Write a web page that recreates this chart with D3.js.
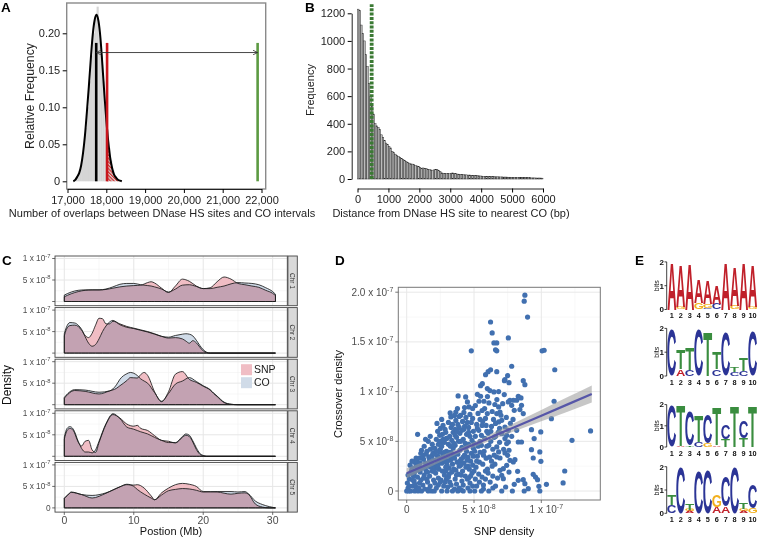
<!DOCTYPE html>
<html><head><meta charset="utf-8">
<script src="https://cdn.jsdelivr.net/npm/d3@7"></script>
<style>
body{margin:0;background:#fff}
svg{display:block}
text{font-family:"Liberation Sans",Arial,Helvetica,sans-serif}
</style></head>
<body><svg id="c" width="762" height="539"></svg>
<script>
// ================= DATA =================
// Panel A
const aTicksX = [17000,18000,19000,20000,21000,22000];
const aTicksY = [0,0.05,0.10,0.15,0.20];
const aHistBins = [17200,17250,17300,17350,17400,17450,17500,17550,17600,17650,17700,17750,17800,17850,17900,17950,18000,18050,18100,18150,18200,18250];
const aHistFreq = [0.004,0.009,0.016,0.03,0.048,0.072,0.1,0.135,0.17,0.2,0.22,0.236,0.2,0.17,0.135,0.1,0.07,0.045,0.028,0.015,0.007,0.003];
const aCurvePos = [17150,17200,17250,17300,17350,17400,17450,17500,17550,17600,17650,17700,17750,17800,17850,17900,17950,18000,18050,18100,18150,18200,18250,18300,18350,18400];
const aCurveFreq = [0,0.002,0.006,0.011,0.021,0.038,0.062,0.094,0.128,0.165,0.198,0.218,0.225,0.216,0.193,0.157,0.118,0.083,0.054,0.032,0.018,0.009,0.005,0.002,0.001,0];
const aPermMean = 17740, aSignif = 18020, aObserved = 21900, aLineTop = 0.187, aArrowY = 0.174;

// Panel B
const bTicksX = [0,1000,2000,3000,4000,5000,6000];
const bTicksY = [0,200,400,600,800,1000,1200];
const bBinWidth = 50;
const bCounts = [1230,1220,1115,1055,1000,900,815,690,600,525,470,400,385,375,360,320,300,280,260,250,235,225,
 200,190,180,172,165,155,148,140,135,125,120,115,110,108,105,98,94,90,82,78,80,75,76,70,68,66,64,66,70,68,60,54,
 45,42,40,38,40,38,42,44,40,38,36,35,34,33,31,30,30,28,29,27,26,27,25,24,23,22,
 21,20,20,19,19,18,18,17,17,16,16,16,15,15,14,14,14,13,13,12,
 12,12,11,11,11,10,10,10,9,9,9,9,8,8,8,7,7,7,7,6];
const bMedianDist = 458;

// Panel C (density in units of 1e-8, position in Mb)
const cChroms = ["Chr 1","Chr 2","Chr 3","Chr 4","Chr 5"];
const cTicksX = [0,10,20,30];
const cTicksY = [0,5,10];
const cTickTextY = [["0",""],["5 x 10","-8"],["1 x 10","-7"]];
const chr1Pos = [0,1,2,3,4,5,6,7,8,9,10,11,12,12.5,13,14,15,16,17,18,19,20,21,22,23,24,25,26,27,28,29,30,30.4];
const chr1CO  = [1.5,2.2,2.6,2.7,2.7,2.7,2.9,3.4,4.0,4.2,4.2,3.9,3.7,3.6,3.4,2.9,2.2,2.9,3.8,3.9,3.5,3.0,3.0,3.3,3.6,4.1,4.4,4.3,4.2,3.9,3.2,2.3,1.7];
const chr1SNP = [1.1,1.8,2.3,2.6,2.7,2.7,2.8,3.1,3.4,3.6,3.7,3.8,4.4,4.6,4.3,3.1,2.1,3.6,5.2,4.7,3.6,3.0,3.2,4.6,5.7,5.2,4.2,3.9,3.6,3.3,2.6,1.9,1.4];
const chr2Pos = [0,0.3,0.8,1.5,2,2.5,3,3.5,4,4.5,5,5.5,6,6.5,7,8,9,10,11,12,13,14,15,16,17,17.5,18,18.5,19,19.5,20,20.5,21,30.4];
const chr2CO  = [4.5,6.0,7.1,7.0,6.5,5.5,3.8,2.3,1.6,2.0,3.3,5.0,6.3,7.2,7.6,6.6,6.0,5.7,5.3,4.9,4.4,3.9,3.7,4.1,4.4,4.5,4.4,4.0,3.0,1.8,0.8,0.2,0,0];
const chr2SNP = [4.0,5.5,6.4,6.5,6.2,5.3,4.1,3.6,4.6,6.5,8.1,8.0,6.8,6.8,7.4,6.8,6.2,5.8,5.4,5.0,4.5,3.9,3.5,3.6,3.3,2.8,2.3,2.9,2.4,1.4,0.5,0.1,0,0];
const chr3Pos = [0,0.5,1.5,3,5,6.5,7.5,8,9,9.5,10.5,11,11.5,12,13,14,15,16,17,18,19,20,21,21.5,22,23,24,25,30.4];
const chr3CO  = [1.7,2.6,3.5,3.4,2.9,3.2,4.6,5.9,7.2,7.5,6.8,6.0,5.5,5.0,2.8,0.8,2.6,4.8,5.5,6.3,5.4,4.4,3.5,2.7,2.0,0.6,0.1,0,0];
const chr3SNP = [1.5,2.4,3.3,3.1,2.5,3.2,3.8,4.4,5.6,6.3,6.2,7.0,7.5,6.8,3.0,0.7,3.0,7.1,7.7,5.9,5.2,4.3,3.4,2.6,1.9,0.5,0.1,0,0];
const chr4Pos = [0,0.4,0.8,1.3,2,2.5,3,3.5,4,4.5,5,6,7,8,9,10,10.5,11,12,13,14,15,16,17,17.5,18,18.5,19,19.5,20,20.5,30.4];
const chr4CO  = [4.5,6.5,6.9,6.3,3.5,1.8,1.0,1.0,0.8,1.5,3.5,7.6,9.9,8.8,6.8,6.3,6.0,5.7,5.2,4.4,3.7,3.2,3.2,4.6,5.2,4.9,3.6,2.0,0.7,0.2,0,0];
const chr4SNP = [4.0,6.0,6.5,6.0,3.3,2.4,3.5,3.7,1.5,0.9,3.2,7.4,9.7,8.9,7.5,7.0,7.2,6.5,6.0,4.8,3.7,3.5,3.1,4.4,4.9,4.6,3.3,1.6,0.5,0.1,0,0];
const chr5Pos = [0,0.5,1,2.5,4,6,8,9,10,10.5,11.5,12.5,13,14,15,16,17,18,19,20,22,24,25,26,26.5,27.5,28.5,29.5,30.4];
const chr5CO  = [2.3,3.0,3.7,3.1,2.9,3.5,4.9,5.5,5.0,4.3,3.2,2.3,1.9,3.0,4.0,4.3,4.5,4.4,4.1,3.7,3.8,3.8,3.7,3.8,3.3,1.6,0.8,0.3,0];
const chr5SNP = [2.2,3.0,3.6,3.1,2.3,3.4,4.9,5.4,5.3,5.4,4.6,2.8,1.9,3.5,4.6,5.4,5.7,5.5,5.0,3.8,3.7,3.2,3.4,3.5,3.2,0.9,0.2,0,0];

// Panel D (units of 1e-8): [SNP density, crossover density]
const dTicksX = [0,5,10];
const dTickTextX = [["0",""],["5 x 10","-8"],["1 x 10","-7"]];
const dTicksY = [0,5,10,15,20];
const dTickTextY = [["0",""],["5 x 10","-8"],["1 x 10","-7"],["1.5 x 10","-7"],["2.0 x 10","-7"]];
const dPoints = [
[0.0,0],[0.1,0.3],[0.3,0],[0.05,0.8],[0.2,1.2],[0.1,1.6],[0.35,2.0],[0.25,2.6],[0.45,0.5],[0.5,1.5],[0.15,0.0],[0.4,2.3],
[0.6,0],[0.7,0.4],[0.55,1.0],[0.8,1.4],[0.65,2.0],[0.9,2.6],[0.75,3.0],[0.95,0.8],[0.85,0.0],[0.6,2.9],[0.81,5.7],[1.0,1.9],[0.7,3.3],
[1.1,0],[1.2,0.6],[1.05,1.1],[1.3,1.6],[1.15,2.3],[1.4,2.8],[1.25,3.2],[1.45,3.7],[1.1,4.1],[1.35,0.2],[1.5,1.2],[1.3,4.5],[1.45,2.0],
[1.6,0],[1.75,0.5],[1.55,0.9],[1.7,1.5],[1.9,2.0],[1.6,2.5],[1.8,2.9],[1.65,3.4],[1.95,3.8],[1.75,4.2],[1.9,4.7],[1.6,5.0],[2.0,1.1],[1.85,0.0],[1.95,2.6],
[2.05,0],[2.2,0.3],[2.1,0.8],[2.35,1.3],[2.15,1.8],[2.4,2.2],[2.25,2.7],[2.05,3.1],[2.3,3.5],[2.45,3.9],[2.1,4.3],[2.35,4.7],[2.2,5.2],[2.45,5.6],[2.3,6.0],[2.5,0.9],[2.4,2.9],[2.15,2.3],[2.5,4.2],
[2.6,0],[2.75,0.5],[2.55,1.1],[2.8,1.6],[2.65,2.0],[2.9,2.4],[2.6,2.8],[2.85,3.2],[2.7,3.6],[2.95,4.0],[2.6,4.5],[2.8,4.9],[2.95,5.3],[2.65,5.7],[2.85,6.2],[2.7,6.6],[2.95,1.2],[3.0,0.0],[2.75,3.0],[2.9,2.0],
[3.05,0.4],[3.2,0.9],[3.1,1.4],[3.35,1.9],[3.15,2.3],[3.4,2.7],[3.25,3.1],[3.05,3.5],[3.3,3.9],[3.45,4.3],[3.1,4.7],[3.35,5.1],[3.2,5.5],[3.45,5.9],[3.3,6.4],[3.1,6.9],[3.28,7.45],[3.23,7.85],[3.4,0.0],[3.5,2.2],[3.0,2.6],
[3.55,0.2],[3.7,0.7],[3.6,1.2],[3.85,1.7],[3.65,2.1],[3.9,2.5],[3.75,2.9],[3.55,3.3],[3.8,3.7],[3.95,4.1],[3.6,4.6],[3.85,5.0],[3.7,5.4],[3.95,5.8],[3.6,6.2],[3.8,6.7],[3.65,7.1],[3.9,7.5],[3.77,8.29],[3.65,7.95],[3.82,9.56],[3.8,0.0],[3.5,3.6],
[4.05,0.1],[4.2,0.6],[4.1,1.0],[4.35,1.5],[4.15,2.0],[4.4,2.4],[4.25,2.8],[4.05,3.2],[4.3,3.6],[4.45,4.0],[4.1,4.4],[4.35,4.8],[4.2,5.2],[4.45,5.7],[4.1,6.1],[4.3,6.5],[4.15,7.0],[4.4,7.4],[4.25,7.9],[4.38,9.46],[4.2,0.0],[4.5,1.2],
[4.55,0.3],[4.7,0.8],[4.6,1.3],[4.85,1.8],[4.65,2.2],[4.9,2.6],[4.75,3.0],[4.55,3.4],[4.8,3.8],[4.95,4.3],[4.6,4.7],[4.85,5.1],[4.7,5.5],[4.95,6.0],[4.6,6.4],[4.8,6.9],[4.51,8.96],[4.63,8.46],[4.8,14.1],[4.7,0.0],[4.9,7.3],
[5.05,0.0],[5.2,0.5],[5.1,1.2],[5.35,1.7],[5.15,2.4],[5.4,2.9],[5.25,3.5],[5.05,4.0],[5.3,4.5],[5.45,5.0],[5.1,5.5],[5.35,6.1],[5.2,6.7],[5.45,7.2],[5.25,9.73],[5.49,9.53],[5.37,9.03],[5.49,10.6],[5.3,7.8],
[5.55,0.0],[5.7,0.6],[5.6,1.4],[5.85,2.0],[5.65,2.7],[5.9,3.3],[5.75,4.0],[5.55,4.6],[5.8,5.3],[5.95,6.0],[5.6,6.6],[5.85,7.3],[5.74,9.03],[5.79,8.29],[5.99,7.79],[5.62,10.8],[5.86,11.7],[5.99,10.3],[5.7,0.2],
[6.1,0.0],[6.2,0.9],[6.05,1.8],[6.35,2.5],[6.15,3.4],[6.4,4.2],[6.25,5.0],[6.05,5.8],[6.3,6.5],[6.45,7.2],[6.11,8.86],[6.18,10.1],[6.48,9.97],[6.23,12.2],[6.05,12.0],[6.23,17.0],[6.35,15.9],[6.48,14.9],[6.6,14.2],[6.4,1.5],
[6.69,14.9],[6.69,14.1],[6.69,12.0],[6.83,10.0],[6.83,8.46],[6.93,7.95],[6.69,7.79],[7.0,7.62],[7.06,7.11],[6.83,6.95],[6.69,4.43],[6.83,3.93],[6.69,3.42],[6.93,3.32],[6.93,2.08],[7.06,5.77],[7.06,1.58],[7.06,0],[6.6,0.5],[6.55,2.7],[6.6,5.5],[6.9,6.3],[6.7,9.2],
[7.55,15.4],[7.8,12.55],[7.5,11.6],[7.3,11.2],[7.6,10.9],[7.26,11.1],[7.13,8.79],[7.93,9.13],[7.67,9.13],[7.55,8.96],[7.8,8.62],[7.99,8.12],[7.3,6.44],[7.55,6.1],[7.43,5.6],[7.3,5.27],[7.55,4.93],[7.43,4.77],[7.3,3.83],[7.5,3.59],[7.67,3.09],[7.92,2.92],[7.43,2.58],[7.18,2.25],[7.18,1.24],[7.99,0.67],[7.85,0],[8.04,3.15],
[8.78,19.7],[8.73,19.1],[8.98,17.5],[8.66,11.1],[8.78,10.7],[8.29,9.53],[8.49,9.36],[8.17,9.13],[8.53,8.62],[8.41,8.19],[8.66,7.79],[8.17,6.1],[8.29,4.93],[8.53,4.93],[8.24,1.98],[8.29,1.07],[8.66,1.14],[8.78,0.74],[8.73,0],[9.03,0.23],
[9.27,6.17],[9.96,5.94],[9.47,5.27],[9.27,4.16],[9.89,3.93],[9.4,3.32],[9.97,2.99],[9.4,1.68],[9.57,1.41],[9.72,1.14],[9.82,0.47],[9.89,0],[10.38,0.67],
[10.21,14.16],[10.06,14.1],[11.0,12.2],[10.95,9.03],[10.75,7.28],[13.66,6.04],[12.28,5.1],[11.74,2.01],[11.62,0.81],
[0.2,0.5],[0.45,1.1],[0.3,1.8],[0.6,0.7],[0.55,1.7],[0.8,2.2],[0.95,3.3],[0.7,2.5],[0.4,3.0],[0.9,0.3],
[1.0,2.8],[1.2,3.6],[1.35,2.4],[1.55,1.9],[1.7,3.1],[1.85,3.5],[1.5,4.0],[1.25,1.3],[1.65,0.2],[1.8,2.4],[1.95,4.3],[1.4,5.2],[1.75,5.5],[1.05,3.8],
[2.0,2.0],[2.3,2.5],[2.1,3.7],[2.4,3.3],[2.2,4.0],[2.55,4.7],[2.45,5.0],[2.7,5.2],[2.9,5.9],[2.5,6.3],[2.8,3.9],[2.6,3.3],[2.35,0.6],[2.85,0.9],[2.95,2.9],[2.25,6.8],[2.6,7.2],
[3.0,3.0],[3.15,3.9],[3.4,3.4],[3.25,4.5],[3.5,4.8],[3.0,5.3],[3.6,5.6],[3.4,6.7],[3.75,6.0],[3.9,6.4],[3.15,1.7],[3.7,1.6],[3.9,0.3],[3.3,0.6],[3.55,7.6],[3.95,3.0],
[4.0,2.6],[4.2,3.4],[4.5,3.1],[4.4,4.4],[4.0,5.0],[4.6,5.9],[4.25,6.2],[4.5,6.9],[4.0,7.6],[4.7,7.7],[4.9,8.3],[4.05,1.6],[4.75,1.5],[4.9,0.5],[4.55,2.5],[4.95,3.5],[4.3,8.4],
[5.0,2.0],[5.2,3.0],[5.45,3.9],[5.0,4.8],[5.55,5.6],[5.25,6.3],[5.65,7.0],[5.9,6.6],[5.1,8.6],[5.6,8.1],[5.4,0.9],[5.85,1.2],[5.95,4.5],[5.7,3.6],
[6.0,2.2],[6.3,3.0],[6.1,4.6],[6.5,5.4],[6.25,6.0],[6.6,6.8],[6.35,8.0],[6.55,8.7],[6.0,9.5],[6.5,3.6],[6.75,1.3],[6.4,0.3],[6.9,4.9],[6.8,5.9],
[7.2,4.2],[7.6,4.1],[7.8,5.5],[7.4,7.4],[7.7,6.8],[7.25,9.7],[7.9,7.2],[7.6,1.9],[7.35,0.4]
];
const dFitX  = [0,2,4,6,8,10,12,13.75];
const dFitY  = [1.78,2.94,4.10,5.26,6.42,7.58,8.74,9.76];
const dFitLo = [1.28,2.59,3.85,4.96,6.00,7.01,8.01,8.90];
const dFitHi = [2.28,3.29,4.35,5.56,6.84,8.15,9.47,10.62];

// Panel E: sequence logos, stacks bottom -> top, [letter, bits]
const eLogo1 = [[["A",1.95]],[["G",0.1],["A",1.76]],[["A",1.9]],[["G",0.28],["A",0.98]],[["C",0.05],["G",0.18],["A",0.95]],
  [["C",0.25],["A",0.77]],[["A",1.98]],[["G",0.15],["A",1.61]],[["A",1.95]],[["G",0.1],["A",1.76]]];
const eLogo2 = [[["C",1.96]],[["A",0.28],["T",0.81]],[["C",0.25],["T",0.91]],[["C",1.93]],[["T",1.84]],
  [["C",0.28],["T",0.7]],[["C",1.8]],[["C",0.15],["T",0.2]],[["C",0.22],["T",0.55]],[["C",1.9]]];
const eLogo3 = [[["C",1.95]],[["A",0.04],["T",1.88]],[["T",0.05],["C",1.62]],[["C",0.23],["T",1.25]],[["G",0.19],["C",1.37]],
  [["A",0.08],["T",1.79]],[["T",0.39],["C",0.7]],[["T",1.92]],[["T",0.4],["C",0.77]],[["T",1.92]]];
const eLogo4 = [[["C",0.36],["T",0.43]],[["C",1.97]],[["A",0.08],["G",0.08],["T",0.27]],[["C",1.79]],[["C",1.86]],
  [["A",0.26],["G",0.48]],[["A",0.29],["C",1.28]],[["C",2.0]],[["A",0.1],["G",0.1],["T",0.3]],[["G",0.21],["C",1.0]]];
const eLogos = [eLogo1,eLogo2,eLogo3,eLogo4];
const eTicks = [0,1,2];
const ePositions = [1,2,3,4,5,6,7,8,9,10];

// ================= DRAW =================
const svg = d3.select("#c");
const defs = svg.append("defs");
const FS = 11;

function supText(sel, base, exp, size, supSize){
  sel.text(null);
  sel.append("tspan").text(base);
  if (exp) sel.append("tspan").attr("dy", -size*0.42).attr("font-size", supSize).text(exp);
}
function panelLabel(t,x,y){ svg.append("text").attr("x",x).attr("y",y).attr("font-size",13.5).attr("font-weight","bold").text(t); }

// ---------- Panel A ----------
(function(){
  const g = svg.append("g");
  const x = d3.scaleLinear().domain([17000,22000]).range([67.5,261.5]);
  const y = d3.scaleLinear().domain([0,0.2]).range([181.3,33.3]);
  const bw = x(17050)-x(17000);
  g.selectAll("rect.h").data(aHistBins).join("rect")
    .attr("x",d=>x(d)).attr("width",bw+0.2)
    .attr("y",(d,i)=>y(aHistFreq[i])).attr("height",(d,i)=>y(0)-y(aHistFreq[i]))
    .attr("fill","#d5d5d5");
  const pat = defs.append("pattern").attr("id","hatch").attr("patternUnits","userSpaceOnUse")
    .attr("width",2.4).attr("height",2.4).attr("patternTransform","rotate(-45)");
  pat.append("rect").attr("width",2.4).attr("height",2.4).attr("fill","#fff").attr("fill-opacity",0);
  pat.append("line").attr("x1",0.6).attr("y1",0).attr("x2",0.6).attr("y2",2.4).attr("stroke","#d42a2a").attr("stroke-width",1.2);
  defs.append("clipPath").attr("id","tailClip").append("rect")
    .attr("x",x(aSignif)).attr("y",0).attr("width",200).attr("height",200);
  const pts = aCurvePos.map((p,i)=>[p,aCurveFreq[i]]);
  g.append("path").datum(pts).attr("clip-path","url(#tailClip)")
    .attr("d",d3.area().x(d=>x(d[0])).y0(y(0)).y1(d=>y(d[1])).curve(d3.curveMonotoneX))
    .attr("fill","url(#hatch)");
  g.append("path").datum(pts)
    .attr("d",d3.line().x(d=>x(d[0])).y(d=>y(d[1])).curve(d3.curveMonotoneX))
    .attr("fill","none").attr("stroke","#000").attr("stroke-width",2);
  const vl = [[aPermMean,"#000"],[aSignif,"#c8161d"],[aObserved,"#5c9a42"]];
  g.selectAll("line.v").data(vl).join("line")
    .attr("x1",d=>x(d[0])).attr("x2",d=>x(d[0])).attr("y1",y(0)).attr("y2",y(aLineTop))
    .attr("stroke",d=>d[1]).attr("stroke-width",2.6);
  const mk = defs.append("marker").attr("id","arr").attr("viewBox","0 0 10 10").attr("refX",10).attr("refY",5)
    .attr("markerWidth",5).attr("markerHeight",5).attr("orient","auto-start-reverse").attr("markerUnits","userSpaceOnUse");
  mk.append("path").attr("d","M0,0 L10,5 L0,10").attr("fill","none").attr("stroke","#333").attr("stroke-width",1.6);
  g.append("line").attr("x1",x(aPermMean)).attr("x2",x(aObserved)).attr("y1",y(aArrowY)).attr("y2",y(aArrowY))
    .attr("stroke","#333").attr("stroke-width",0.9).attr("marker-start","url(#arr)").attr("marker-end","url(#arr)");
  g.append("rect").attr("x",66.7).attr("y",3).attr("width",199).attr("height",186)
    .attr("fill","none").attr("stroke","#8a8a8a").attr("stroke-width",1.4);
  const ax = g.append("g").attr("transform","translate(0,189)")
    .call(d3.axisBottom(x).tickValues(aTicksX).tickFormat(d3.format(",")).tickSize(4).tickSizeOuter(0));
  ax.selectAll("text").attr("font-size",FS).attr("fill","#222").attr("font-family",null);
  ax.select(".domain").attr("stroke","#222");
  const ay = g.append("g").attr("transform","translate(66.7,0)")
    .call(d3.axisLeft(y).tickValues(aTicksY).tickFormat(d=>d===0?"0":d3.format(".2f")(d)).tickSize(4).tickPadding(2.5));
  ay.select(".domain").remove();
  ay.selectAll("text").attr("font-size",FS).attr("fill","#222").attr("font-family",null);
  g.append("text").attr("transform","translate(34,96) rotate(-90)").attr("text-anchor","middle").attr("font-size",12.3).attr("fill","#222").text("Relative Frequency");
  g.append("text").attr("x",162).attr("y",217).attr("text-anchor","middle").attr("font-size",FS).attr("fill","#222")
    .text("Number of overlaps between DNase HS sites and CO intervals");
  panelLabel("A",1,12);
})();

// ---------- Panel B ----------
(function(){
  const g = svg.append("g");
  const x = d3.scaleLinear().domain([0,6000]).range([357.5,543]);
  const y = d3.scaleLinear().domain([0,1200]).range([179,13.3]);
  g.selectAll("rect.b").data(bCounts).join("rect")
    .attr("x",(d,i)=>x(i*bBinWidth)).attr("width",x(bBinWidth)-x(0))
    .attr("y",d=>y(d)).attr("height",d=>y(0)-y(d))
    .attr("fill","#bcbcbc").attr("stroke","#2a2a2a").attr("stroke-width",0.45);
  g.append("line").attr("x1",x(bMedianDist)).attr("x2",x(bMedianDist)).attr("y1",y(0)).attr("y2",y(1265))
    .attr("stroke","#3b7a34").attr("stroke-width",3.8).attr("stroke-dasharray","3,1.3");
  const ax = g.append("g").attr("transform","translate(0,188.5)")
    .call(d3.axisBottom(x).tickValues(bTicksX).tickFormat(d=>String(d)).tickSize(4).tickSizeOuter(0));
  ax.selectAll("text").attr("font-size",FS).attr("fill","#222").attr("font-family",null);
  ax.select(".domain").attr("stroke","#222");
  const ay = g.append("g").attr("transform","translate(351.7,0)")
    .call(d3.axisLeft(y).tickValues(bTicksY).tickFormat(d=>String(d)).tickSize(4).tickSizeOuter(0).tickPadding(2.5));
  ay.selectAll("text").attr("font-size",FS).attr("fill","#222").attr("font-family",null);
  ay.select(".domain").attr("stroke","#222");
  g.append("text").attr("transform","translate(314,90) rotate(-90)").attr("text-anchor","middle").attr("font-size",FS).attr("fill","#222").text("Frequency");
  g.append("text").attr("x",451).attr("y",217).attr("text-anchor","middle").attr("font-size",FS).attr("fill","#222")
    .text("Distance from DNase HS site to nearest CO (bp)");
  panelLabel("B",305,12);
})();

// ---------- Panel C ----------
(function(){
  const g = svg.append("g");
  const left = 55, right = 287.3, top0 = 256, rowH = 49.7, step = 51.6;
  const x = d3.scaleLinear().domain([0,30]).range([64.3,272.7]);
  const data = [[chr1Pos,chr1CO,chr1SNP],[chr2Pos,chr2CO,chr2SNP],[chr3Pos,chr3CO,chr3SNP],[chr4Pos,chr4CO,chr4SNP],[chr5Pos,chr5CO,chr5SNP]];
  const snpFill = "#f0bdc4", coFill = "#d0dbe8";
  cChroms.forEach((name,r)=>{
    const top = top0 + r*step;
    const y = d3.scaleLinear().domain([0,10]).range([top+45.5, top+2.5]);
    const row = g.append("g");
    row.append("rect").attr("x",left).attr("y",top).attr("width",right-left).attr("height",rowH).attr("fill","#fff");
    [2.5,7.5].forEach(v=>row.append("line").attr("x1",left).attr("x2",right).attr("y1",y(v)).attr("y2",y(v)).attr("stroke","#f2f2f2").attr("stroke-width",0.6));
    [5,15,25].forEach(v=>row.append("line").attr("x1",x(v)).attr("x2",x(v)).attr("y1",top).attr("y2",top+rowH).attr("stroke","#f2f2f2").attr("stroke-width",0.6));
    cTicksY.forEach(v=>row.append("line").attr("x1",left).attr("x2",right).attr("y1",y(v)).attr("y2",y(v)).attr("stroke","#e6e6e6").attr("stroke-width",1));
    cTicksX.forEach(v=>row.append("line").attr("x1",x(v)).attr("x2",x(v)).attr("y1",top).attr("y2",top+rowH).attr("stroke","#e6e6e6").attr("stroke-width",1));
    const [pos,co,snp] = data[r];
    const area = d3.area().x(d=>x(d[0])).y0(y(0)).y1(d=>y(d[1])).curve(d3.curveMonotoneX);
    const coPts = pos.map((p,i)=>[p,co[i]]), snpPts = pos.map((p,i)=>[p,snp[i]]);
    const blend = row.append("g").style("isolation","isolate");
    blend.append("path").datum(coPts).attr("d",area).attr("fill",coFill).style("mix-blend-mode","multiply");
    blend.append("path").datum(snpPts).attr("d",area).attr("fill",snpFill).style("mix-blend-mode","multiply");
    row.append("path").datum(coPts).attr("d",area).attr("fill","none").attr("stroke","#1a1a1a").attr("stroke-width",0.85);
    row.append("path").datum(snpPts).attr("d",area).attr("fill","none").attr("stroke","#1a1a1a").attr("stroke-width",0.85);
    row.append("rect").attr("x",left).attr("y",top).attr("width",right-left).attr("height",rowH).attr("fill","none").attr("stroke","#444").attr("stroke-width",0.9);
    row.append("rect").attr("x",right+0.6).attr("y",top).attr("width",9.4).attr("height",rowH).attr("fill","#d9d9d9").attr("stroke","#444").attr("stroke-width",0.9);
    row.append("text").attr("transform",`translate(${right+5.3},${top+rowH/2}) rotate(90)`).attr("text-anchor","middle")
      .attr("dy","0.35em").attr("font-size",6.5).attr("fill","#333").text(name);
    cTicksY.forEach((v,i)=>{
      row.append("line").attr("x1",left-2.8).attr("x2",left).attr("y1",y(v)).attr("y2",y(v)).attr("stroke","#444").attr("stroke-width",0.8);
      if (v!==0 || r===4) {
        const t = row.append("text").attr("x",left-4.5).attr("y",y(v)).attr("dy","0.35em").attr("text-anchor","end")
          .attr("font-size",8.3).attr("fill","#4d4d4d");
        supText(t,cTickTextY[i][0],cTickTextY[i][1],8.3,5.8);
      }
    });
    if (r===2) {
      row.append("rect").attr("x",241).attr("y",top+5).attr("width",11).attr("height",11).attr("fill",snpFill);
      row.append("rect").attr("x",241).attr("y",top+18).attr("width",11).attr("height",11).attr("fill",coFill);
      row.append("text").attr("x",254).attr("y",top+10.5).attr("dy","0.35em").attr("font-size",10.5).attr("fill","#1a1a1a").text("SNP");
      row.append("text").attr("x",254).attr("y",top+23.5).attr("dy","0.35em").attr("font-size",10.5).attr("fill","#1a1a1a").text("CO");
    }
    if (r===4) {
      cTicksX.forEach(v=>{
        row.append("line").attr("x1",x(v)).attr("x2",x(v)).attr("y1",top+rowH).attr("y2",top+rowH+2.8).attr("stroke","#444").attr("stroke-width",0.8);
        row.append("text").attr("x",x(v)).attr("y",top+rowH+11.5).attr("text-anchor","middle").attr("font-size",10.5).attr("fill","#4d4d4d").text(v);
      });
    }
  });
  g.append("text").attr("x",171).attr("y",535).attr("text-anchor","middle").attr("font-size",FS).attr("fill","#111").text("Postion (Mb)");
  g.append("text").attr("transform","translate(11,385) rotate(-90)").attr("text-anchor","middle").attr("font-size",12).attr("fill","#111").text("Density");
  panelLabel("C",2,265);
})();

// ---------- Panel D ----------
(function(){
  const g = svg.append("g");
  const L = 398.3, T = 287.3, W = 202, H = 212.7;
  const x = d3.scaleLinear().domain([0,10]).range([406.7,541.3]);
  const y = d3.scaleLinear().domain([0,20]).range([491,292.2]);
  g.append("rect").attr("x",L).attr("y",T).attr("width",W).attr("height",H).attr("fill","#fff");
  [2.5,7.5,12.5].forEach(v=>g.append("line").attr("x1",x(v)).attr("x2",x(v)).attr("y1",T).attr("y2",T+H).attr("stroke","#f3f3f3").attr("stroke-width",0.6));
  [2.5,7.5,12.5,17.5].forEach(v=>g.append("line").attr("x1",L).attr("x2",L+W).attr("y1",y(v)).attr("y2",y(v)).attr("stroke","#f3f3f3").attr("stroke-width",0.6));
  dTicksX.forEach(v=>g.append("line").attr("x1",x(v)).attr("x2",x(v)).attr("y1",T).attr("y2",T+H).attr("stroke","#e8e8e8").attr("stroke-width",1));
  dTicksY.forEach(v=>g.append("line").attr("x1",L).attr("x2",L+W).attr("y1",y(v)).attr("y2",y(v)).attr("stroke","#e8e8e8").attr("stroke-width",1));
  g.selectAll("circle").data(dPoints).join("circle")
    .attr("cx",d=>x(d[0])).attr("cy",d=>y(d[1])).attr("r",2.6).attr("fill","#4170b0");
  const band = dFitX.map((v,i)=>[v,dFitLo[i],dFitHi[i]]);
  g.append("path").datum(band).attr("d",d3.area().x(d=>x(d[0])).y0(d=>y(d[1])).y1(d=>y(d[2])).curve(d3.curveMonotoneX))
    .attr("fill","#999").attr("fill-opacity",0.55);
  g.append("path").datum(dFitX.map((v,i)=>[v,dFitY[i]])).attr("d",d3.line().x(d=>x(d[0])).y(d=>y(d[1])))
    .attr("fill","none").attr("stroke","#5656a8").attr("stroke-width",2.2);
  g.append("rect").attr("x",L).attr("y",T).attr("width",W).attr("height",H).attr("fill","none").attr("stroke","#777").attr("stroke-width",1);
  dTicksX.forEach((v,i)=>{
    g.append("line").attr("x1",x(v)).attr("x2",x(v)).attr("y1",T+H).attr("y2",T+H+3).attr("stroke","#555").attr("stroke-width",0.8);
    const t = g.append("text").attr("x",x(v)+(i?5:0)).attr("y",T+H+13).attr("text-anchor","middle").attr("font-size",10).attr("fill","#4d4d4d");
    supText(t,dTickTextX[i][0],dTickTextX[i][1],10,7);
  });
  dTicksY.forEach((v,i)=>{
    g.append("line").attr("x1",L-3).attr("x2",L).attr("y1",y(v)).attr("y2",y(v)).attr("stroke","#555").attr("stroke-width",0.8);
    const t = g.append("text").attr("x",L-5).attr("y",y(v)).attr("dy","0.35em").attr("text-anchor","end").attr("font-size",10).attr("fill","#4d4d4d");
    supText(t,dTickTextY[i][0],dTickTextY[i][1],10,7);
  });
  g.append("text").attr("x",504).attr("y",535).attr("text-anchor","middle").attr("font-size",FS).attr("fill","#111").text("SNP density");
  g.append("text").attr("transform","translate(342,394) rotate(-90)").attr("text-anchor","middle").attr("font-size",FS).attr("fill","#111").text("Crossover density");
  panelLabel("D",335,265);
})();

// ---------- Panel E ----------
(function(){
  const g = svg.append("g");
  const bases = [309.5,376,447,513.3], ppb = [23.8,23.8,21.2,23.3];
  const x = d3.scaleLinear().domain([1,10]).range([671.8,752.6]);
  const colW = 8.8;
  const colors = {A:"#c0202a",C:"#2b3496",G:"#f2b01e",T:"#3a8d3f"};
  const ctx = document.createElement("canvas").getContext("2d");
  ctx.font = 'bold 100px "Liberation Sans", Arial, sans-serif';
  const met = {};
  ["A","C","G","T"].forEach(c=>{ const m = ctx.measureText(c);
    met[c] = {l:m.actualBoundingBoxLeft, r:m.actualBoundingBoxRight, a:m.actualBoundingBoxAscent, d:m.actualBoundingBoxDescent}; });
  eLogos.forEach((logo,k)=>{
    const base = bases[k], p = ppb[k];
    const y = d3.scaleLinear().domain([0,2]).range([base, base-2*p]);
    const lg = g.append("g");
    ePositions.forEach(pn=>{
      lg.append("text").attr("x",x(pn)).attr("y",base+8.7).attr("text-anchor","middle").attr("font-size",7.3).attr("font-weight","bold").attr("fill","#111").text(pn);
    });
    logo.forEach((stack,i)=>{
      let cum = 0;
      stack.forEach(([ch,bits])=>{
        const m = met[ch];
        const hpx = y(cum) - y(cum+bits);
        const sx = colW/(m.l+m.r), sy = hpx/(m.a+m.d);
        const x0 = x(ePositions[i]) - colW/2, yTop = y(cum+bits);
        lg.append("text").attr("transform",`translate(${x0+m.l*sx},${yTop+m.a*sy}) scale(${sx},${sy})`)
          .attr("font-size",100).attr("font-weight","bold").attr("fill",colors[ch]).text(ch);
        cum += bits;
      });
    });
    lg.append("line").attr("x1",666.7).attr("x2",666.7).attr("y1",y(0)).attr("y2",y(2)).attr("stroke","#111").attr("stroke-width",0.8);
    eTicks.forEach(v=>{
      lg.append("line").attr("x1",664.5).attr("x2",666.7).attr("y1",y(v)).attr("y2",y(v)).attr("stroke","#111").attr("stroke-width",0.8);
      lg.append("text").attr("x",664).attr("y",y(v)).attr("dy","0.35em").attr("text-anchor","end").attr("font-size",8).attr("font-weight","bold").attr("fill","#111").text(v);
    });
    lg.append("text").attr("transform",`translate(659,${y(1)}) rotate(-90)`).attr("text-anchor","middle").attr("font-size",7).attr("fill","#111").text("bits");
  });
  panelLabel("E",635,265);
})();
</script></body></html>
